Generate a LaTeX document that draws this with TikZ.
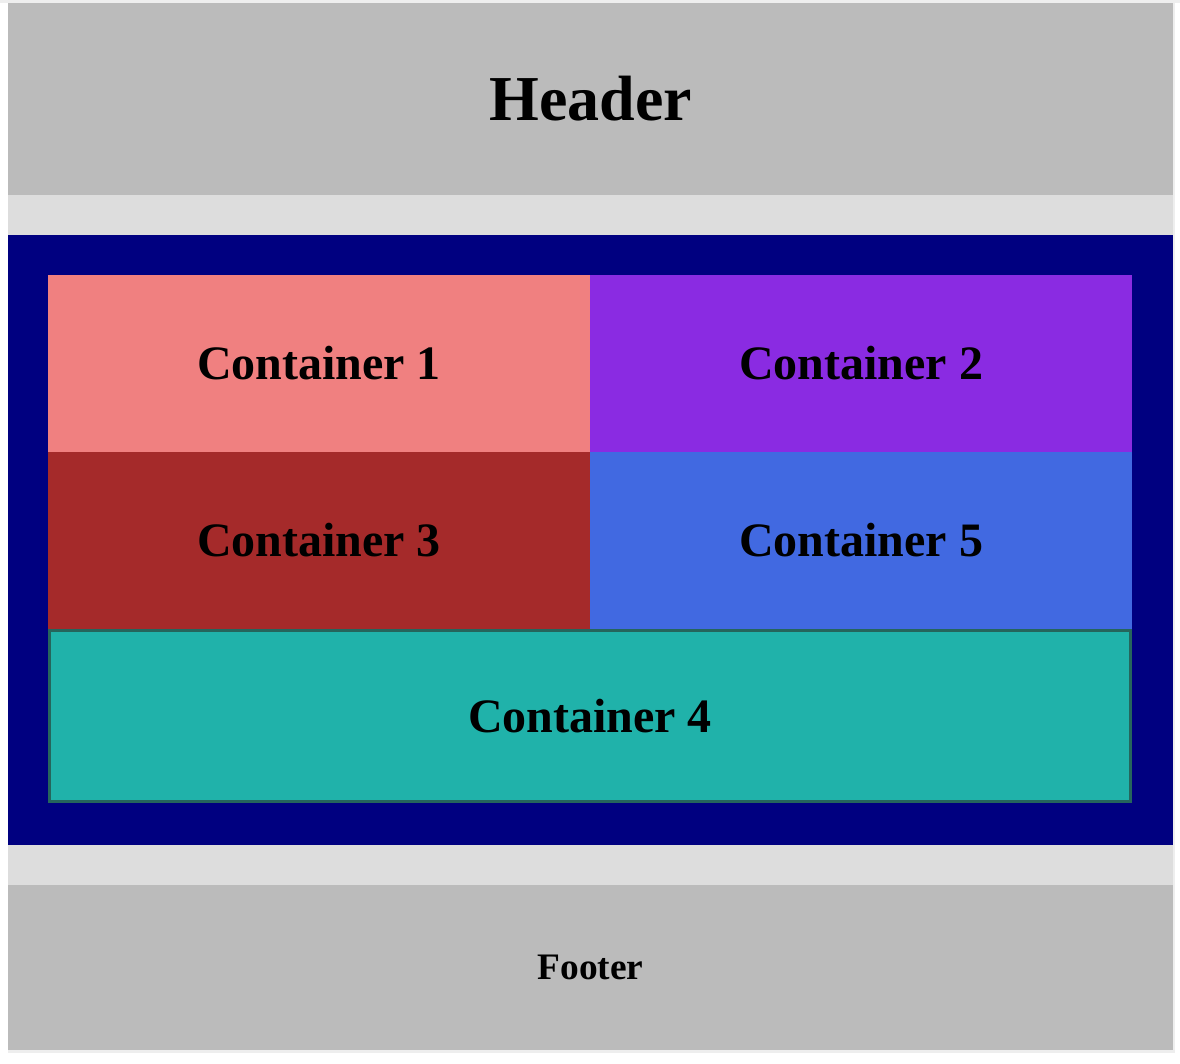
\documentclass[tikz,border=0pt]{standalone}
\usepackage{fontspec}
\setmainfont{Liberation Serif}
\usepackage{tikz}
\definecolor{kopf}{HTML}{BBBBBB}
\definecolor{spalt}{HTML}{DDDDDD}
\definecolor{rand}{HTML}{EEEEEE}
\definecolor{rahmen}{HTML}{000080}
\definecolor{koralle}{HTML}{F08080}
\definecolor{violett}{HTML}{8A2BE2}
\definecolor{braun}{HTML}{A52A2A}
\definecolor{koenig}{HTML}{4169E1}
\definecolor{meer}{HTML}{20B2AA}
\definecolor{meerd}{HTML}{25655C}
\tikzset{
  feld/.style={inner sep=0pt,outer sep=0pt,anchor=center},
  leiste/.style={feld,fill=kopf,minimum width=1165pt},
  kasten/.style={feld,minimum width=542pt,minimum height=177pt,
    font=\fontsize{48}{48}\selectfont\bfseries},
}

\begin{document}
\begin{tikzpicture}[x=1pt,y=-1pt]
  \useasboundingbox (0,0) rectangle (1180,1064);
  \fill[white] (0,0) rectangle (1180,1064);
  \fill[rand] (0,0) rectangle (1180,3);
  \fill[rand] (1173,3) rectangle (1175,1053);
  \fill[rand] (8,1050) rectangle (1175,1053);
  % Kopf und Fuss
  \node[leiste,minimum height=192pt,font=\fontsize{64}{64}\selectfont\bfseries]
    (header) at (590.5,99) {Header};
  \node[feld,fill=spalt,minimum width=1165pt,minimum height=40pt] (spalt1) at (590.5,215) {};
  \node[feld,fill=rahmen,minimum width=1165pt,minimum height=610pt] (frame) at (590.5,540) {};
  \node[feld,fill=spalt,minimum width=1165pt,minimum height=40pt] (spalt2) at (590.5,865) {};
  \node[leiste,minimum height=165pt,font=\fontsize{37.4}{37.4}\selectfont\bfseries]
    (footer) at (590.5,967.5) {Footer};
  % Container
  \node[kasten,fill=koralle] (cone) at (319,363.5) {Container 1};
  \node[kasten,fill=violett] (ctwo) at (861,363.5) {Container 2};
  \node[kasten,fill=braun] (cthree) at (319,540.5) {Container 3};
  \node[kasten,fill=koenig] (cfive) at (861,540.5) {Container 5};
  \node[kasten,fill=meer,draw=meerd,line width=3pt,minimum width=1081pt,
    minimum height=171pt] (cfour) at (590,716) {Container 4};
\end{tikzpicture}
\end{document}
